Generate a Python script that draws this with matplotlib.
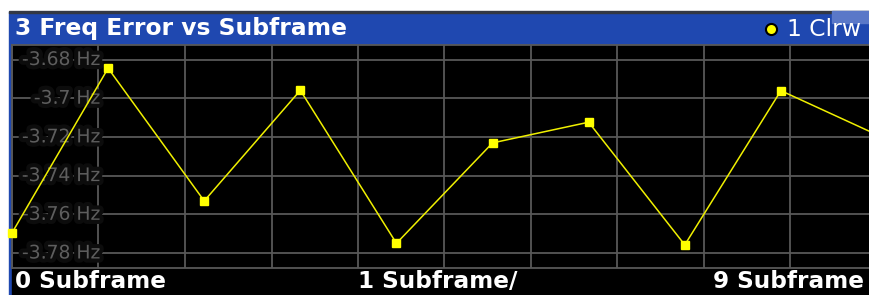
import matplotlib
matplotlib.use('Agg')
import matplotlib.pyplot as plt
import matplotlib.patheffects as pe
from matplotlib.patches import Rectangle
import numpy as np

# values (Hz per subframe)
subframes = [0, 1, 2, 3, 4, 5, 6, 7, 8, 9]
freq_error = [-3.7696, -3.6845, -3.7531, -3.6959, -3.7750,
              -3.7231, -3.7124, -3.7758, -3.6961, -3.7189]
y_ticks = [-3.68, -3.70, -3.72, -3.74, -3.76, -3.78]
y_tick_labels = ['-3.68 Hz', '-3.7 Hz', '-3.72 Hz', '-3.74 Hz', '-3.76 Hz', '-3.78 Hz']

title = '3 Freq Error vs Subframe'
trace_label = '1 Clrw'
bottom_labels = ['0 Subframe', '1 Subframe/', '9 Subframe']

W, H = 869, 295
BLUE = '#1f48b0'
GRID = '#585858'


def fx(px):
    return px / W


def fy(py):
    # pixel row from the top -> figure fraction
    return 1 - py / H


fig = plt.figure(figsize=(W / 100, H / 100), dpi=100)
fig.patch.set_facecolor('white')

# window frame: blue title bar and black footer
fig.patches.append(Rectangle((fx(9), fy(295)), fx(869 - 9), (295 - 12) / H,
                             transform=fig.transFigure, color=BLUE, zorder=0))
fig.patches.append(Rectangle((fx(9), fy(12.5)), fx(869 - 9), 1.2 / H,
                             transform=fig.transFigure, color='#333844', zorder=1))
fig.patches.append(Rectangle((fx(832), fy(23)), fx(869 - 832), 12 / H,
                             transform=fig.transFigure, color='#5a78c8', zorder=1))
fig.patches.append(Rectangle((fx(12), fy(295)), fx(869 - 12), 28 / H,
                             transform=fig.transFigure, color='black', zorder=1))

# plot area (right part runs past the picture edge, as in the screenshot)
ax = fig.add_axes([fx(12), (H - 267.5) / H, 865 / W, 222.5 / H])
ax.set_zorder(3)
ax.set_facecolor('black')
ax.set_xlim(0, 9)
ax.set_ylim(-3.7875, -3.6725)
ax.set_xticks(np.arange(0, 9.01, 0.9))
ax.set_yticks(y_ticks)
ax.grid(True, color=GRID, linewidth=1.3)
ax.tick_params(left=False, bottom=False, labelleft=False, labelbottom=False)
for s in ax.spines.values():
    s.set_color(GRID)
    s.set_linewidth(1.3)

for v, lab in zip(y_ticks, y_tick_labels):
    ax.text(0.915, v, lab, ha='right', va='center', fontsize=13.5,
            color='#5e5e5e', zorder=3,
            path_effects=[pe.withStroke(linewidth=6, foreground='#0c0c0c')])

ax.plot(subframes, freq_error, color='#f0f000', linewidth=1.1,
        marker='s', markersize=5.8, markerfacecolor='#ffff00',
        markeredgecolor='#ffff00', zorder=5, clip_on=False)

# header texts
fig.text(fx(15), fy(29), title, fontsize=16.8, fontweight='bold',
         color='white', ha='left', va='center', zorder=4)
fig.text(fx(787), fy(29), trace_label, fontsize=16.8, color='white',
         ha='left', va='center', zorder=4)
fig.lines.append(plt.Line2D([fx(771)], [fy(29)], marker='o', markersize=8,
                            markerfacecolor='#ffff00', markeredgecolor='black',
                            markeredgewidth=1.5, transform=fig.transFigure,
                            zorder=4))

# footer texts
for x0, lab in zip([15, 358, 713], bottom_labels):
    fig.text(fx(x0), fy(282), lab, fontsize=16.7, fontweight='bold',
             color='white', ha='left', va='center', zorder=4)

fig.savefig('out.png', dpi=100, facecolor=fig.get_facecolor())
